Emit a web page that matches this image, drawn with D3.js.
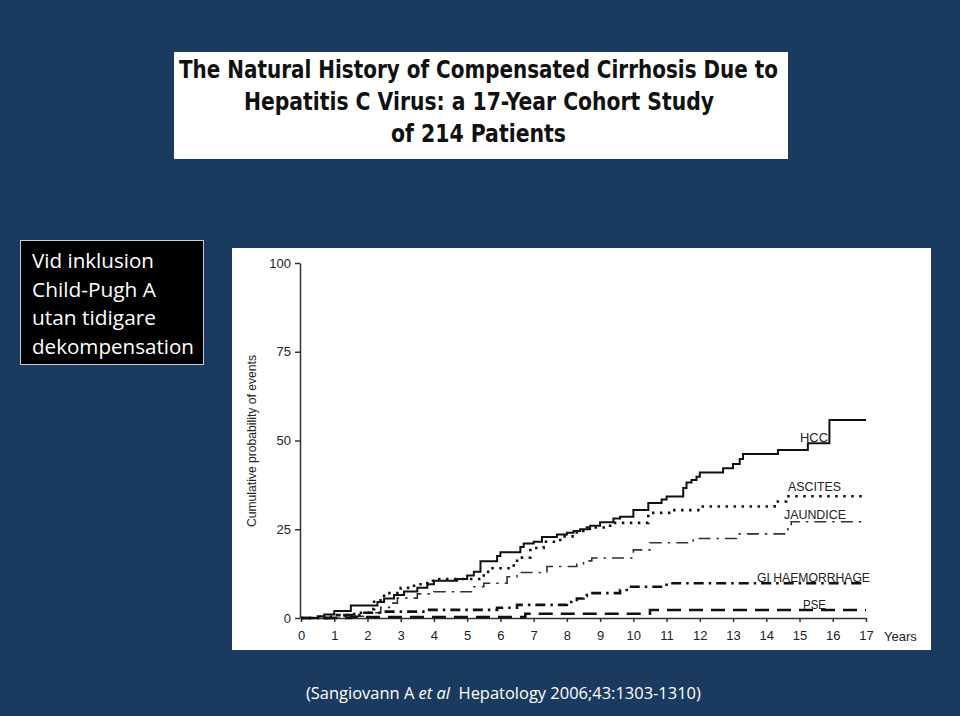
<!DOCTYPE html>
<html><head><meta charset="utf-8">
<script src="https://cdn.jsdelivr.net/npm/d3@7"></script>
<style>
html,body{margin:0;padding:0;background:#1b3a5f;}
svg{display:block;}
</style></head>
<body>
<svg id="c" width="960" height="716"></svg>
<script>
// ---- data ----
const titleLines = ["The Natural History of Compensated Cirrhosis Due to",
                    "Hepatitis C Virus: a 17-Year Cohort Study",
                    "of 214 Patients"];
const noteLines = ["Vid inklusion", "Child-Pugh A", "utan tidigare", "dekompensation"];
const xTicks = [0,1,2,3,4,5,6,7,8,9,10,11,12,13,14,15,16,17];
const yTicks = [0,25,50,75,100];
const yAxisTitle = "Cumulative probability of events";
const xAxisUnit = "Years";

const hccYears   = [0,0.5,0.7,1.0,1.5,2.3,2.5,2.8,3.1,3.5,3.8,4.0,4.7,5.0,5.2,5.4,5.9,6.0,6.6,6.7,7.0,7.25,7.7,8.0,8.2,8.4,8.7,9.0,9.4,9.6,10.0,10.45,10.85,11.0,11.5,11.6,11.75,11.9,12.0,12.7,13.0,13.2,13.3,14.35,15.25,15.9,17];
const hccValues  = [0,0.5,1,2,3.5,4.5,5.5,6.5,7.5,8.5,9.5,10.5,11,12,13,16,17.5,18.5,20,21,21.5,22.8,23.5,24,24.5,25,26,27,28,28.5,30.4,32.4,33.4,34.2,36.6,38.2,38.9,39.8,41,42.2,43.4,44.8,46.2,47.3,49.2,55.8,55.8];

const ascYears   = [0,1.0,1.6,2.1,2.2,2.5,3.0,3.4,3.8,4.1,5.5,5.7,6.4,6.5,6.9,7.3,7.8,8.3,8.6,9.3,10.45,11.15,12.0,14.25,14.6,17];
const ascValues  = [0,0.8,1.5,2.5,5,7,8.5,9.5,10.5,11,13,14,15.2,17,19.7,21.5,23,24.5,25.5,26.8,29.6,30.4,31.4,32.8,34.3,34.3];

const jauYears   = [0,1.2,2.0,2.4,2.7,2.9,3.5,4.0,5.2,5.5,6.2,6.5,7.4,8.3,8.5,8.75,10.0,10.5,11.8,13.1,14.65,14.75,17];
const jauValues  = [0,0.5,1.5,3,4.2,5.6,6.8,7.4,8.8,9.8,11.6,12.8,14.5,15.2,16.1,16.9,19.2,21.2,22.4,23.7,25.7,27.1,27.1];

const giYears    = [0,0.9,1.8,2.5,3.8,5.9,6.5,8.0,8.3,8.5,8.6,9.6,9.8,11.0,17];
const giValues   = [0,0.8,1.5,1.8,2.3,2.9,3.7,4.5,5.5,6.2,7,7.9,8.8,9.8,9.8];

const pseYears   = [0,1.5,6.75,10.5,17];
const pseValues  = [0,0.3,1.2,2.25,2.25];

const seriesNames = ["HCC","ASCITES","JAUNDICE","GI HAEMORRHAGE","PSE"];
const citation = ["(Sangiovann A ", "et al", "  Hepatology 2006;43:1303-1310)"];

// ---- drawing ----
const svg = d3.select("#c");
svg.append("rect").attr("width",960).attr("height",716).attr("fill","#1b3a5f");

// title box
svg.append("rect").attr("x",174).attr("y",52).attr("width",614).attr("height",107).attr("fill","#ffffff");
const titleSpecs = [{y:78,x1:179,x2:778},{y:110,x1:244,x2:714},{y:142,x1:391,x2:566}];
svg.append("g").selectAll("text").data(titleLines).join("text")
  .attr("x",(d,i)=>titleSpecs[i].x1)
  .attr("y",(d,i)=>titleSpecs[i].y)
  .attr("textLength",(d,i)=>titleSpecs[i].x2-titleSpecs[i].x1)
  .attr("lengthAdjust","spacingAndGlyphs")
  .attr("font-family","'DejaVu Sans Condensed','Liberation Sans Narrow',Roboto,sans-serif")
  .attr("font-weight","bold").attr("font-size",25).attr("fill","#111")
  .text(d=>d);

// left note box
svg.append("rect").attr("x",20.5).attr("y",240.5).attr("width",183).attr("height",124)
  .attr("fill","#000").attr("stroke","#c8ccd4").attr("stroke-width",1);
const noteW = [122,124,124,162];
svg.append("g").selectAll("text").data(noteLines).join("text")
  .attr("x",32).attr("y",(d,i)=>268+i*28.7)
  .attr("textLength",(d,i)=>noteW[i]).attr("lengthAdjust","spacingAndGlyphs")
  .attr("font-family","'Open Sans',Lato,sans-serif").attr("font-size",20).attr("fill","#fff")
  .text(d=>d);

// chart panel
svg.append("rect").attr("x",232).attr("y",248).attr("width",699).attr("height",402).attr("fill","#fff");

const x = d3.scaleLinear().domain([0,17]).range([301,866]);
const y = d3.scaleLinear().domain([0,100]).range([618,263]);

const axisFont = "'Liberation Sans',Arial,sans-serif";
const gy = svg.append("g").attr("transform","translate(300,0)")
  .call(d3.axisLeft(y).tickValues(yTicks).tickSize(5).tickSizeOuter(0).tickPadding(4));
const gx = svg.append("g").attr("transform","translate(0,618)")
  .call(d3.axisBottom(x).tickValues(xTicks).tickSize(4).tickSizeOuter(0).tickPadding(9).tickFormat(d3.format("d")));
[gx,gy].forEach(g=>{
  g.select(".domain").attr("stroke","#333").attr("stroke-width",1.5);
  g.selectAll(".tick line").attr("stroke","#333").attr("stroke-width",1.5);
  g.selectAll(".tick text").attr("fill","#222").attr("font-family",axisFont).attr("font-size",13);
});
svg.append("text").attr("x",884).attr("y",641).attr("font-family",axisFont).attr("font-size",13)
  .attr("fill","#222").text(xAxisUnit);
svg.append("text").attr("transform","translate(256,441) rotate(-90)").attr("text-anchor","middle")
  .attr("font-family",axisFont).attr("font-size",12.5).attr("fill","#222")
  .attr("textLength",172).attr("lengthAdjust","spacingAndGlyphs").text(yAxisTitle);

const line = d3.line().x(d=>x(d[0])).y(d=>y(d[1])).curve(d3.curveStepAfter);
const series = [
  {name:seriesNames[0], xs:hccYears, ys:hccValues, w:2,   dash:null,        col:"#111"},
  {name:seriesNames[1], xs:ascYears, ys:ascValues, w:2.6, dash:"2.5,5.5",   col:"#111"},
  {name:seriesNames[2], xs:jauYears, ys:jauValues, w:1.6, dash:"12,6,2.5,6",col:"#333"},
  {name:seriesNames[3], xs:giYears,  ys:giValues,  w:2.6, dash:"10,5,2.5,5",col:"#111"},
  {name:seriesNames[4], xs:pseYears, ys:pseValues, w:2.6, dash:"14,8",      col:"#111"}
];
svg.append("g").selectAll("path").data(series).join("path")
  .attr("d",s=>line(s.xs.map((v,i)=>[v,s.ys[i]])))
  .attr("fill","none").attr("stroke",s=>s.col).attr("stroke-width",s=>s.w)
  .attr("stroke-dasharray",s=>s.dash);

// series labels
const labelPos = [{x:800,y:442},{x:788,y:491},{x:784,y:519},{x:757,y:582},{x:803,y:609}];
const labelW = [28,53,62,113,23];
svg.append("g").selectAll("text").data(series).join("text")
  .attr("x",(d,i)=>labelPos[i].x).attr("y",(d,i)=>labelPos[i].y)
  .attr("textLength",(d,i)=>labelW[i]).attr("lengthAdjust","spacingAndGlyphs")
  .attr("font-family",axisFont).attr("font-size",12.5).attr("fill","#222")
  .text(d=>d.name);

// citation (font size fitted to the reference width)
const cit = svg.append("text").attr("x",306).attr("y",699)
  .attr("font-family","'Open Sans',Lato,sans-serif").attr("font-size",19).attr("fill","#fff");
cit.selectAll("tspan").data(citation).join("tspan")
  .attr("font-style",(d,i)=>i===1?"italic":"normal")
  .style("white-space","pre")
  .text(d=>d);
const cw = cit.node().getComputedTextLength();
if (cw > 0) cit.attr("font-size", 19*395/cw);
</script>
</body></html>
